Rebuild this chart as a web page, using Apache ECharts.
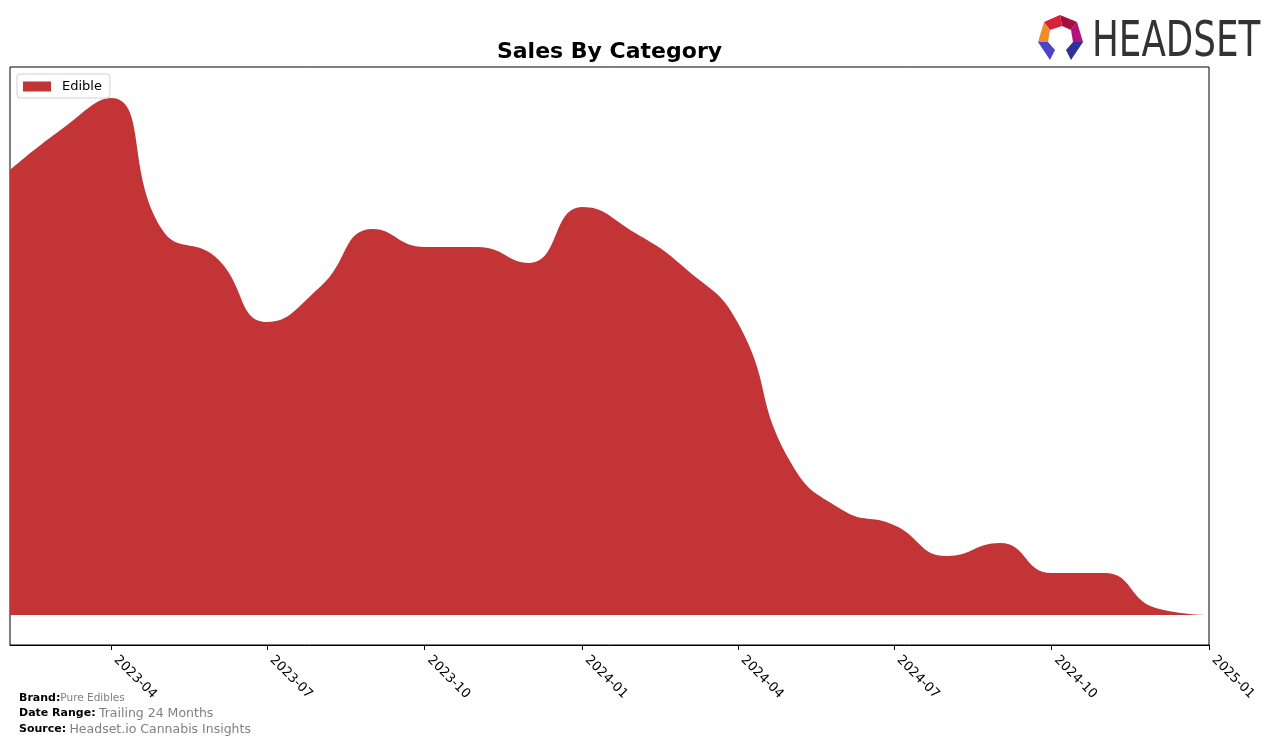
<!DOCTYPE html>
<html>
<head>
<meta charset="utf-8">
<script src="https://cdn.jsdelivr.net/npm/echarts@6/dist/echarts.min.js"></script>
<style>
html,body{margin:0;padding:0;background:#fff;}
#chart{width:1276px;height:746px;}
</style>
</head>
<body>
<div id="chart"></div>
<script>
// ---- data ----
var months = ['2023-02','2023-03','2023-04','2023-05','2023-06','2023-07','2023-08','2023-09','2023-10','2023-11','2023-12',
  '2024-01','2024-02','2024-03','2024-04','2024-05','2024-06','2024-07','2024-08','2024-09','2024-10','2024-11','2024-12','2025-01'];
var edibleSales = [445,483,517,385,358,293,328,386,368,368,352,408,382,347,292,155,105,90,59,72,42,42,7,0];
var tickLabels = ['2023-04','2023-07','2023-10','2024-01','2024-04','2024-07','2024-10','2025-01'];
var seriesName = 'Edible';

function toTs(s){ var p = s.split('-'); return new Date(+p[0], +p[1]-1, 1).getTime(); }
function pad(n){ return n < 10 ? '0'+n : ''+n; }

var seriesData = months.map(function(m,i){ return [toTs(m), edibleSales[i]]; });
var tickValues = tickLabels.map(toTs);

var chart = echarts.init(document.getElementById('chart'), null, {renderer:'canvas'});
var font = 'DejaVu Sans';

chart.setOption({
  animation:false,
  backgroundColor:'#fff',
  legend:{
    left:17, top:74,
    itemWidth:28, itemHeight:10, itemGap:5,
    padding:[6,8,5,6],
    borderColor:'#d0d0d0', borderWidth:1, borderRadius:3,
    backgroundColor:'rgba(255,255,255,0.8)',
    textStyle:{fontFamily:font, fontSize:13, color:'#000', padding:[0,0,0,6]},
    data:[{name:seriesName, icon:'rect'}]
  },
  grid:{left:10, right:67, top:67, bottom:101, show:true, borderColor:'#000', borderWidth:1, containLabel:false},
  xAxis:{
    type:'value',
    min:toTs(months[0]), max:toTs(months[months.length-1]),
    axisLine:{show:true, onZero:false, lineStyle:{color:'#000', width:1}},
    splitLine:{show:false},
    axisTick:{show:true, length:5, lineStyle:{color:'#000'}, customValues:tickValues},
    axisLabel:{
      customValues:tickValues,
      rotate:-45, margin:8, padding:[0,0,0,7],
      fontFamily:font, fontSize:13, color:'#000',
      formatter:function(v){ var d=new Date(v); return d.getFullYear()+'-'+pad(d.getMonth()+1); }
    }
  },
  yAxis:{
    type:'value', min:-30, max:548,
    axisLine:{show:false}, axisTick:{show:false}, axisLabel:{show:false}, splitLine:{show:false}
  },
  series:[{
    name:seriesName, type:'line', data:seriesData,
    smooth:0.5, symbol:'none',
    lineStyle:{width:0, color:'#c23435'},
    itemStyle:{color:'#c23435'},
    areaStyle:{color:'#c23435', opacity:1, origin:0}
  }],
  graphic:[
    {type:'text', x:609.5, y:41, style:{text:'Sales By Category', textAlign:'center', textVerticalAlign:'top',
      fontFamily:font, fontWeight:'bold', fontSize:22, fill:'#000'}},
    {type:'polygon', shape:{points:[[1044,22],[1060,15],[1062,26],[1050,30]]}, style:{fill:'#d8203a'}},
    {type:'polygon', shape:{points:[[1060,15],[1077,22],[1071,30],[1062,26]]}, style:{fill:'#a3123f'}},
    {type:'polygon', shape:{points:[[1044,22],[1050,30],[1048,42],[1038,42]]}, style:{fill:'#f28a2a'}},
    {type:'polygon', shape:{points:[[1077,22],[1083,42],[1073,42],[1071,30]]}, style:{fill:'#b3127c'}},
    {type:'polygon', shape:{points:[[1038,42],[1048,42],[1055,50],[1050,60]]}, style:{fill:'#4b44c8'}},
    {type:'polygon', shape:{points:[[1083,42],[1073,42],[1066,50],[1071,60]]}, style:{fill:'#30309a'}},
    {type:'text', x:1092, y:18, scaleX:0.70, scaleY:0.97, style:{text:'HEADSET', fontFamily:font, fontSize:51, fill:'#333333'}},
    {type:'text', left:19, top:693, style:{
      text:'{b|Brand:}{g|Pure Edibles}',
      rich:{b:{fontFamily:font, fontWeight:'bold', fontSize:11, fill:'#000'}, g:{fontFamily:font, fontSize:10.5, fill:'#808080'}}
    }},
    {type:'text', left:19, top:707, style:{
      text:'{b|Date Range:} {g|Trailing 24 Months}',
      rich:{b:{fontFamily:font, fontWeight:'bold', fontSize:11, fill:'#000'}, g:{fontFamily:font, fontSize:12.5, fill:'#808080'}}
    }},
    {type:'text', left:19, top:723, style:{
      text:'{b|Source:} {g|Headset.io Cannabis Insights}',
      rich:{b:{fontFamily:font, fontWeight:'bold', fontSize:11, fill:'#000'}, g:{fontFamily:font, fontSize:12.5, fill:'#808080'}}
    }}
  ]
});
</script>
</body>
</html>
